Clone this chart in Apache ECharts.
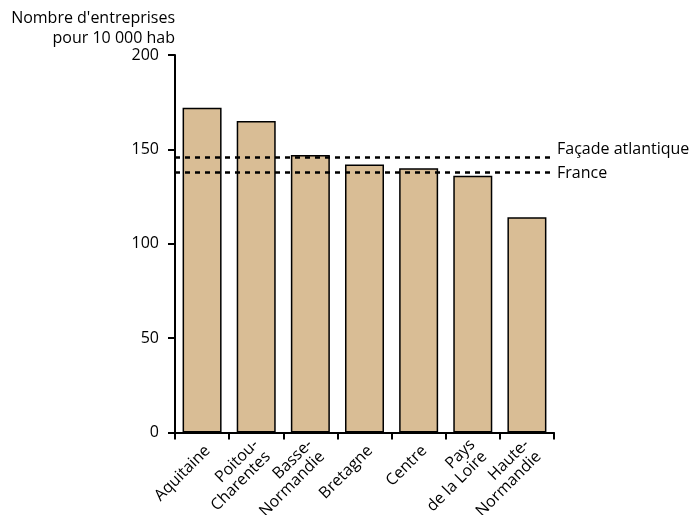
<!DOCTYPE html>
<html><head><meta charset="utf-8">
<script src="https://cdn.jsdelivr.net/npm/echarts@6/dist/echarts.min.js"></script>
<style>html,body{margin:0;padding:0;background:#fff}#c{width:692px;height:515px}</style>
</head><body><div id="c"></div>
<script>
const categories = ["Aquitaine", "Poitou-\nCharentes", "Basse-\nNormandie", "Bretagne", "Centre", "Pays\nde la Loire", "Haute-\nNormandie"];
const values = [172, 165, 147, 142, 140, 136, 114];
const refNames = ["Façade atlantique", "France"];
const refValues = [146, 138];
const yTicks = [0, 50, 100, 150, 200];

const FONT = "Open Sans";
const chart = echarts.init(document.getElementById('c'), null, {renderer: 'canvas'});
chart.setOption({
  animation: false,
  backgroundColor: '#fff',
  textStyle: {fontFamily: FONT, color: '#000'},
  graphic: [{
    type: 'text', x: 175, y: 8,
    style: {text: "Nombre d'entreprises\npour 10 000 hab", font: '16px "Open Sans"', fill: '#000', align: 'right', verticalAlign: 'top', lineHeight: 20}
  }],
  grid: {left: 175, right: 138, top: 55, bottom: 82.5, containLabel: false, outerBoundsMode: 'none'},
  xAxis: {
    type: 'category', data: categories,
    axisLine: {lineStyle: {color: '#000', width: 2}},
    axisTick: {show: true, length: 7, lineStyle: {color: '#000', width: 2}},
    axisLabel: {rotate: 45, fontSize: 16, fontFamily: FONT, color: '#000', lineHeight: 17, margin: 10, interval: 0,
      formatter: v => '{a|' + v.split('\n').join('}\n{a|') + '}',
      rich: {a: {fontSize: 16, fontFamily: FONT, color: '#000', lineHeight: 17, padding: [16, 0, 0, 0]}}}
  },
  yAxis: {
    type: 'value', min: yTicks[0], max: yTicks[yTicks.length - 1], interval: 50,
    splitLine: {show: false},
    axisLine: {show: true, lineStyle: {color: '#000', width: 2}},
    axisTick: {show: true, length: 7, lineStyle: {color: '#000', width: 2}},
    axisLabel: {fontSize: 16, fontFamily: FONT, color: '#000', margin: 16}
  },
  series: [{
    type: 'bar', data: values, barWidth: 39,
    itemStyle: {color: '#d9bd95', borderColor: '#000', borderWidth: 1.5},
    markLine: {
      silent: true, symbol: 'none',
      lineStyle: {color: '#000', width: 2.5, type: [5, 5]},
      label: {show: true, position: 'end', formatter: '{b}', fontSize: 16, fontFamily: FONT, color: '#000', distance: 3},
      data: refNames.map((n, i) => ({name: n, yAxis: refValues[i], label: i === 0 ? {offset: [0, -7]} : {offset: [0, 1]}}))
    }
  }]
});
</script></body></html>
